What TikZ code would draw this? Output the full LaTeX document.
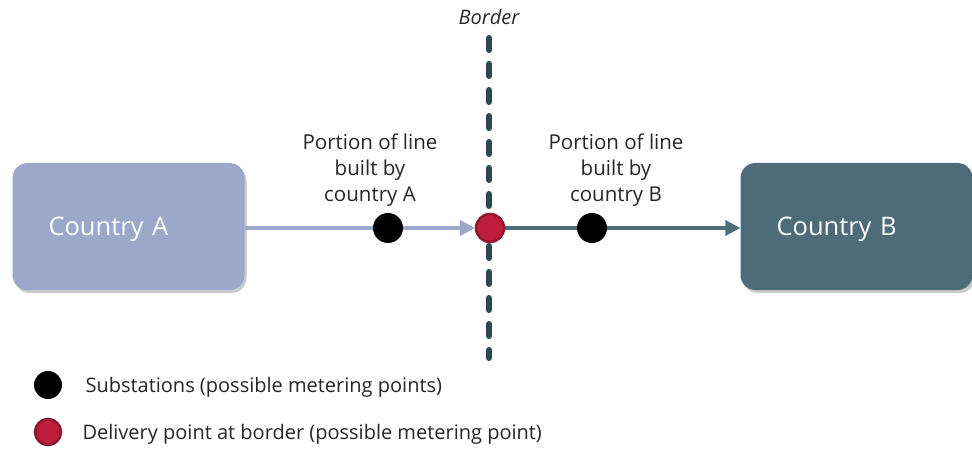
\documentclass[tikz,border=0pt]{standalone}
\usepackage{fontspec}
\setmainfont{Open Sans}
\usetikzlibrary{shadows,arrows.meta}

\definecolor{countryA}{HTML}{9BA8C9}
\definecolor{countryB}{HTML}{4D6B78}
\definecolor{borderline}{HTML}{2E4650}
\definecolor{delivery}{HTML}{BE1E3C}
\definecolor{deliveryrim}{HTML}{8E1630}
\definecolor{textgrey}{HTML}{262626}

\tikzset{
    country/.style={rounded corners=15pt, minimum width=232pt, minimum height=127pt,
        inner xsep=35pt, text width=160pt, align=left, text=white,
        text height=19pt, text depth=0pt,
        font=\fontsize{25.5}{30}\selectfont,
        drop shadow={shadow xshift=2pt, shadow yshift=-3pt, opacity=0.35, fill=black!60}},
    substation/.style={circle, fill=black, minimum size=30pt, inner sep=0pt},
    deliverypt/.style={circle, fill=delivery, draw=deliveryrim, line width=2.5pt, minimum size=28pt, inner sep=0pt},
    portion/.style={align=center, text=textgrey, font=\fontsize{20.5}{26}\selectfont},
    legendtext/.style={anchor=west, text=textgrey, font=\fontsize{20}{22}\selectfont},
    link/.style={line width=4.5pt, -{Triangle[length=15pt, width=15pt]}}
}

\begin{document}
\begin{tikzpicture}[x=1pt, y=-1pt]
    % canvas
    \useasboundingbox (0,0) rectangle (972,449);

    % the two countries
    \node[country, fill=countryA] (CountryA) at (128.5,226.5) {Country A};
    \node[country, fill=countryB] (CountryB) at (856.5,226.5) {Country B};

    % border line and its label
    \coordinate (BorderTop) at (489,38);
    \coordinate (BorderBottom) at (489,358);
    \draw[borderline, line width=6pt, line cap=round, dash pattern=on 12pt off 14pt]
        (BorderTop) -- (BorderBottom);
    \node[font=\fontsize{20}{22}\selectfont\itshape, text=textgrey] (BorderLabel) at (489,17) {Border};

    % points on the line
    \node (Delivery) at (490,228) {};
    \node (SubA) at (388,228) {};
    \node (SubB) at (592,228) {};

    % lines built by each country
    \draw[link, countryA, shorten >=15pt] (CountryA.east |- Delivery) -- (Delivery.center);
    \draw[link, countryB] (Delivery.center) -- (CountryB.west |- Delivery);

    \node[deliverypt] at (Delivery) {};
    \node[substation] at (SubA) {};
    \node[substation] at (SubB) {};

    \node[portion] (PortionA) at (370,170) {Portion of line\\built by\\country A};
    \node[portion] (PortionB) at (616,170) {Portion of line\\built by\\country B};

    % legend
    \node[substation, minimum size=28pt] (LegSub) at (48,385) {};
    \node[legendtext] (LegSubText) at (82,387) {Substations (possible metering points)};
    \node[deliverypt, minimum size=26pt] (LegDel) at (48,432) {};
    \node[legendtext] (LegDelText) at (79,434) {Delivery point at border (possible metering point)};
\end{tikzpicture}
\end{document}
